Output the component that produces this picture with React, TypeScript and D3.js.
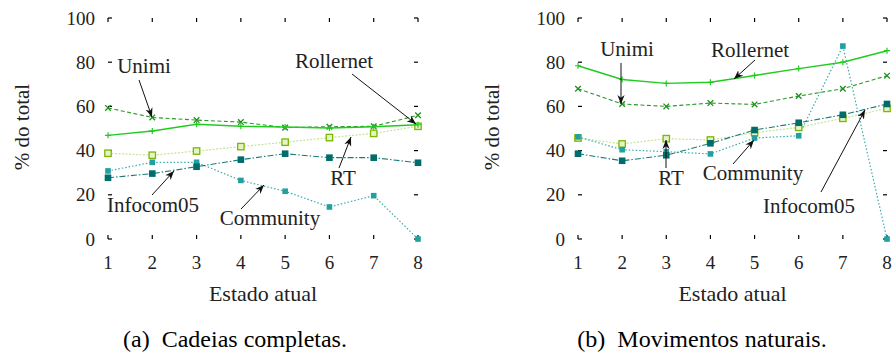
import React from "react";
import * as d3 from "d3";

const states = [1, 2, 3, 4, 5, 6, 7, 8];
const yTicks = [0, 20, 40, 60, 80, 100];

// (a) Cadeias completas
const aUnimi = [59.3, 55, 53.8, 52.9, 50.4, 50.8, 51, 56];
const aRollernet = [46.9, 48.9, 51.9, 51, 50.7, 50.2, 50.8, 51.7];
const aRT = [38.8, 37.9, 39.8, 41.8, 43.8, 45.9, 47.8, 51];
const aInfocom = [27.7, 29.6, 32.7, 35.9, 38.6, 36.8, 36.8, 34.5];
const aCommunity = [30.8, 34.7, 34.7, 26.5, 21.6, 14.5, 19.6, 0];

// (b) Movimentos naturais
const bUnimi = [68, 61.1, 60, 61.5, 60.9, 64.7, 68, 73.9];
const bRollernet = [78.4, 72.2, 70.4, 70.9, 74, 77.1, 80, 85.2];
const bRT = [45.7, 43, 45.4, 44.8, 48.1, 50.5, 54.6, 59.1];
const bInfocom = [38.6, 35.4, 37.9, 43.3, 49.3, 52.6, 56.2, 61.1];
const bCommunity = [46.2, 40.4, 39.5, 38.5, 45.7, 46.7, 87.3, 0];

const captions = ["(a)  Cadeias completas.", "(b)  Movimentos naturais."];

type Marker = "plus" | "cross" | "open" | "filled" | "small";

const styles: Record<string, { color: string; markColor: string; dash: string; width: number; marker: Marker }> = {
  Unimi: { color: "#2a9a2a", markColor: "#1f8f1f", dash: "4,2.5", width: 1.1, marker: "cross" },
  Rollernet: { color: "#1fcc1f", markColor: "#1fcc1f", dash: "", width: 1.4, marker: "plus" },
  RT: { color: "#c6e39a", markColor: "#78b800", dash: "2,1.5", width: 1.2, marker: "open" },
  Infocom05: { color: "#1a7a7a", markColor: "#006c6c", dash: "6,2,1.5,2", width: 1.1, marker: "filled" },
  Community: { color: "#3aabab", markColor: "#20a0a0", dash: "1.5,2", width: 1.2, marker: "small" },
};

const seriesA: [string, number[]][] = [
  ["RT", aRT],
  ["Community", aCommunity],
  ["Infocom05", aInfocom],
  ["Unimi", aUnimi],
  ["Rollernet", aRollernet],
];
const seriesB: [string, number[]][] = [
  ["RT", bRT],
  ["Community", bCommunity],
  ["Infocom05", bInfocom],
  ["Unimi", bUnimi],
  ["Rollernet", bRollernet],
];

// annotation: label, label center, arrow tail, arrow head
const notesA = [
  { text: "Unimi", lx: 144, ly: 66, x1: 139, y1: 80, x2: 152, y2: 117 },
  { text: "Rollernet", lx: 334, ly: 61, x1: 352, y1: 74, x2: 416, y2: 124 },
  { text: "RT", lx: 343, ly: 178, x1: 339, y1: 168, x2: 351, y2: 137 },
  { text: "Infocom05", lx: 153, ly: 205, x1: 152, y1: 195, x2: 174, y2: 171 },
  { text: "Community", lx: 270, ly: 218, x1: 241, y1: 209, x2: 264, y2: 185 },
];
const notesB = [
  { text: "Unimi", lx: 627, ly: 49, x1: 621, y1: 63, x2: 621, y2: 104 },
  { text: "Rollernet", lx: 750, ly: 50, x1: 755, y1: 60, x2: 734, y2: 79 },
  { text: "RT", lx: 671, ly: 178, x1: 666, y1: 168, x2: 666, y2: 140 },
  { text: "Community", lx: 753, ly: 173, x1: 733, y1: 164, x2: 754, y2: 140 },
  { text: "Infocom05", lx: 809, ly: 206, x1: 821, y1: 192, x2: 865, y2: 110 },
];

const top = 18;
const bottom = 239;

const panels = [
  { left: 108, right: 418, series: seriesA, notes: notesA, caption: captions[0], cx: 235, ylx: 22 },
  { left: 578, right: 887, series: seriesB, notes: notesB, caption: captions[1], cx: 702, ylx: 492 },
];

const serif = (size: number): React.CSSProperties => ({ fontFamily: "'Liberation Serif'", fontSize: size });

function MarkerShape({ kind, color }: { kind: Marker; color: string }) {
  if (kind === "plus") return <path d="M-3,0H3M0,-3V3" stroke={color} strokeWidth={1.2} />;
  if (kind === "cross")
    return <path d="M-2.8,-2.8L2.8,2.8M-2.8,2.8L2.8,-2.8" stroke={color} strokeWidth={1.3} />;
  if (kind === "open")
    return <rect x={-3.2} y={-3.2} width={6.4} height={6.4} fill="#e6f3c8" stroke={color} strokeWidth={1.3} />;
  if (kind === "filled") return <rect x={-3.3} y={-3.3} width={6.6} height={6.6} fill={color} />;
  return <rect x={-2.8} y={-2.8} width={5.6} height={5.6} fill={color} />;
}

function Panel({ p }: { p: (typeof panels)[number] }) {
  const x = d3.scaleLinear().domain([1, 8]).range([p.left, p.right]);
  const y = d3.scaleLinear().domain([0, 100]).range([bottom, top]);
  const line = d3
    .line<number>()
    .x((_, i) => x(states[i]))
    .y((d) => y(d));

  return (
    <g>
      {/* mirrored inward ticks, no border */}
      {yTicks.map((t) => (
        <g key={"y" + t}>
          <line x1={p.left} x2={p.left + 4} y1={y(t)} y2={y(t)} stroke="#000" strokeWidth={1.2} />
          <line x1={p.right} x2={p.right - 4} y1={y(t)} y2={y(t)} stroke="#000" strokeWidth={1.2} />
          <text x={p.left - 13} y={y(t)} dy="0.35em" textAnchor="end" fill="#222" style={serif(19)}>
            {t}
          </text>
        </g>
      ))}
      {states.map((s) => (
        <g key={"x" + s}>
          <line x1={x(s)} x2={x(s)} y1={bottom} y2={bottom - 4} stroke="#000" strokeWidth={1.2} />
          <line x1={x(s)} x2={x(s)} y1={top} y2={top + 4} stroke="#000" strokeWidth={1.2} />
          <text x={x(s)} y={262} dy="0.35em" textAnchor="middle" fill="#222" style={serif(19)}>
            {s}
          </text>
        </g>
      ))}

      {p.series.map(([name, values]) => {
        const st = styles[name];
        return (
          <g key={name}>
            <path
              d={line(values) ?? ""}
              fill="none"
              stroke={st.color}
              strokeWidth={st.width}
              strokeDasharray={st.dash || undefined}
            />
            {values.map((v, i) => (
              <g key={i} transform={`translate(${x(states[i])},${y(v)})`}>
                <MarkerShape kind={st.marker} color={st.markColor} />
              </g>
            ))}
          </g>
        );
      })}

      {p.notes.map((n) => (
        <g key={n.text}>
          <line x1={n.x1} y1={n.y1} x2={n.x2} y2={n.y2} stroke="#111" strokeWidth={1} markerEnd="url(#arrow)" />
          <text x={n.lx} y={n.ly} dy="0.35em" textAnchor="middle" fill="#222" style={serif(21)}>
            {n.text}
          </text>
        </g>
      ))}

      <text x={(p.left + p.right) / 2} y={293} dy="0.35em" textAnchor="middle" fill="#222" style={serif(22)}>
        Estado atual
      </text>
      <text
        transform={`translate(${p.ylx},127) rotate(-90)`}
        dy="0.35em"
        textAnchor="middle"
        fill="#222"
        style={serif(21)}
      >
        % do total
      </text>
      <text x={p.cx} y={347} textAnchor="middle" fill="#000" style={{ ...serif(24), whiteSpace: "pre" }}>
        {p.caption}
      </text>
    </g>
  );
}

export default function App() {
  return (
    <svg
      id="chart"
      width={896}
      height={358}
      style={{ position: "absolute", left: 0, top: 0, background: "#fff" }}
    >
      <style>{"svg#chart text { font-family: 'Liberation Serif', serif !important; }"}</style>
      <defs>
        <marker
          id="arrow"
          viewBox="0 0 10 10"
          refX={10}
          refY={5}
          markerWidth={9}
          markerHeight={9}
          markerUnits="userSpaceOnUse"
          orient="auto"
        >
          <path d="M0,1 L10,5 L0,9 L3,5 Z" fill="#111" />
        </marker>
      </defs>
      {panels.map((p, i) => (
        <Panel key={i} p={p} />
      ))}
    </svg>
  );
}
